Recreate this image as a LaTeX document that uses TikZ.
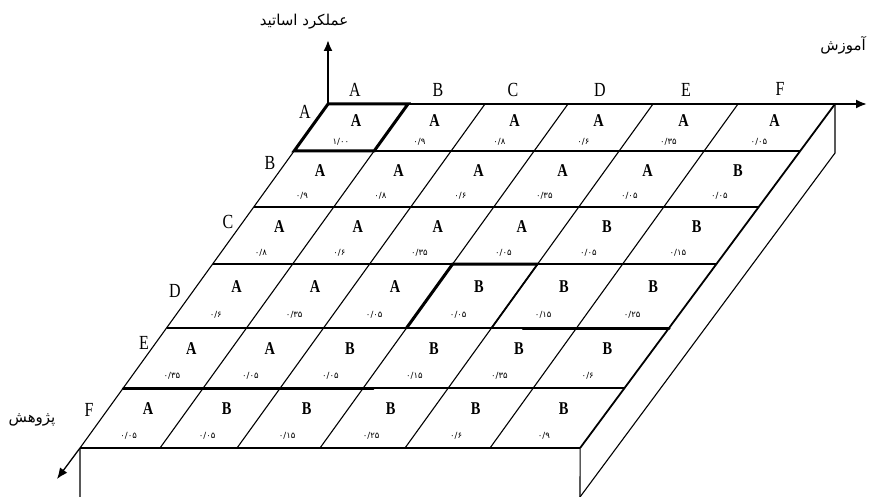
\documentclass[tikz,border=0pt]{standalone}
\usepackage{fontspec}
\setmainfont{Liberation Serif}
\newfontfamily\condserif[FakeStretch=0.8]{Liberation Serif}
\newfontfamily\arabicfont[Script=Arabic]{DejaVu Sans}
\TeXXeTstate=1
\usetikzlibrary{arrows.meta,calc}
\newcommand\mycell[4]{%
  \pgfmathtruncatemacro\kk{#1+1}%
  \pgfmathtruncatemacro\jj{#2+1}%
  \node[celllet] (L-#1-#2) at ($ ($(p-#1-#2)!0.35!(p-\kk-#2)$)!0.5!($(p-#1-\jj)!0.35!(p-\kk-\jj)$) $) {#3};
  \node[cellnum] (N-#1-#2) at ($ ($(p-#1-#2)!0.8!(p-\kk-#2)$)!0.5!($(p-#1-\jj)!0.8!(p-\kk-\jj)$) $) {#4};
}
\begin{document}
\begin{tikzpicture}[x=1pt,y=-1pt,
  gridline/.style={line width=1.1pt},
  boldline/.style={line width=3pt,line cap=round},
  semibold/.style={line width=1.8pt},
  axisline/.style={line width=2pt,-{Latex[length=11pt,width=9pt]}},
  celllet/.style={font=\condserif\bfseries\fontsize{18}{18}\selectfont,inner sep=0pt},
  cellnum/.style={font=\arabicfont\fontsize{8.5}{8.5}\selectfont,inner sep=0pt},
  header/.style={font=\condserif\fontsize{20}{20}\selectfont,inner sep=0pt},
  axlabel/.style={font=\arabicfont\fontsize{15}{15}\selectfont,inner sep=0pt}]
\useasboundingbox (0,0) rectangle (872,497);
% grid corner points
\foreach \yy [count=\i from 0] in {104,151,207,264,328,388,448}{
  \foreach \tx [count=\j from 0] in {328,408,485,568,653,738,835}{
    \pgfmathsetmacro\s{ifthenelse(\j==6,0.741,0.7209)}
    \coordinate (p-\i-\j) at ({\tx-\s*(\yy-104)},\yy);
  }
}
% slab
\coordinate (sideT) at (835,153);
\coordinate (sideB) at (580,497);
\coordinate (frontL) at (80,497);
\coordinate (frontR) at (580,497);
\draw[gridline] (p-0-6) -- (sideT) -- (sideB);
\draw[gridline] (p-6-0) -- (frontL);
\draw[gridline] (p-6-6) -- (frontR);
% horizontal lines
\foreach \i in {1,...,6}{ \draw[gridline] (p-\i-0) -- (p-\i-6); }
% slanted lines
\foreach \j in {0,...,5}{ \draw[gridline] (p-0-\j) -- (p-6-\j); }
\draw[semibold] (p-0-6) -- (p-6-6);
% axes
\coordinate (yaxis) at (328,40);
\coordinate (xaxis) at (867,104);
\coordinate (zaxis) at (57,479);
\draw[axisline] (p-0-0) -- (yaxis);
\draw[axisline] (p-0-0) -- (xaxis);
\draw[axisline,line width=1.3pt] (p-6-0) -- (zaxis);
% bold segments
\draw[boldline] (p-0-0) -- (p-0-1) -- (p-1-1) -- (p-1-0) -- cycle;
\draw[boldline] (p-4-3) -- (p-3-3) -- (p-3-4);
\draw[semibold] (p-3-4) -- (p-4-4);
\draw[boldline] ($(p-4-4)!0.37!(p-4-5)$) -- (p-4-6);
\draw[boldline] (p-5-0) -- ($(p-5-3)!0.12!(p-5-4)$);
% axis labels
\node[axlabel] (ylab) at (304,22) {\beginR عملکرد اساتید\endR};
\node[axlabel] (xlab) at (843,45) {\beginR آموزش\endR};
\node[axlabel] (zlab) at (32,420) {\beginR پژوهش\endR};
% column headers
\node[header] (cA) at (355,90) {A};
\node[header] (cB) at (438,90) {B};
\node[header] (cC) at (513,90) {C};
\node[header] (cD) at (600,90) {D};
\node[header] (cE) at (686,90) {E};
\node[header] (cF) at (780,89) {F};
% row headers
\node[header] (rA) at (305,112) {A};
\node[header] (rB) at (270,163) {B};
\node[header] (rC) at (228,222) {C};
\node[header] (rD) at (175,291) {D};
\node[header] (rE) at (144,343) {E};
\node[header] (rF) at (89,410) {F};
% cells
\mycell{0}{0}{A}{۱/۰۰}\mycell{0}{1}{A}{۰/۹}\mycell{0}{2}{A}{۰/۸}\mycell{0}{3}{A}{۰/۶}\mycell{0}{4}{A}{۰/۳۵}\mycell{0}{5}{A}{۰/۰۵}
\mycell{1}{0}{A}{۰/۹}\mycell{1}{1}{A}{۰/۸}\mycell{1}{2}{A}{۰/۶}\mycell{1}{3}{A}{۰/۳۵}\mycell{1}{4}{A}{۰/۰۵}\mycell{1}{5}{B}{۰/۰۵}
\mycell{2}{0}{A}{۰/۸}\mycell{2}{1}{A}{۰/۶}\mycell{2}{2}{A}{۰/۳۵}\mycell{2}{3}{A}{۰/۰۵}\mycell{2}{4}{B}{۰/۰۵}\mycell{2}{5}{B}{۰/۱۵}
\mycell{3}{0}{A}{۰/۶}\mycell{3}{1}{A}{۰/۳۵}\mycell{3}{2}{A}{۰/۰۵}\mycell{3}{3}{B}{۰/۰۵}\mycell{3}{4}{B}{۰/۱۵}\mycell{3}{5}{B}{۰/۲۵}
\mycell{4}{0}{A}{۰/۳۵}\mycell{4}{1}{A}{۰/۰۵}\mycell{4}{2}{B}{۰/۰۵}\mycell{4}{3}{B}{۰/۱۵}\mycell{4}{4}{B}{۰/۳۵}\mycell{4}{5}{B}{۰/۶}
\mycell{5}{0}{A}{۰/۰۵}\mycell{5}{1}{B}{۰/۰۵}\mycell{5}{2}{B}{۰/۱۵}\mycell{5}{3}{B}{۰/۲۵}\mycell{5}{4}{B}{۰/۶}\mycell{5}{5}{B}{۰/۹}
\end{tikzpicture}
\end{document}
